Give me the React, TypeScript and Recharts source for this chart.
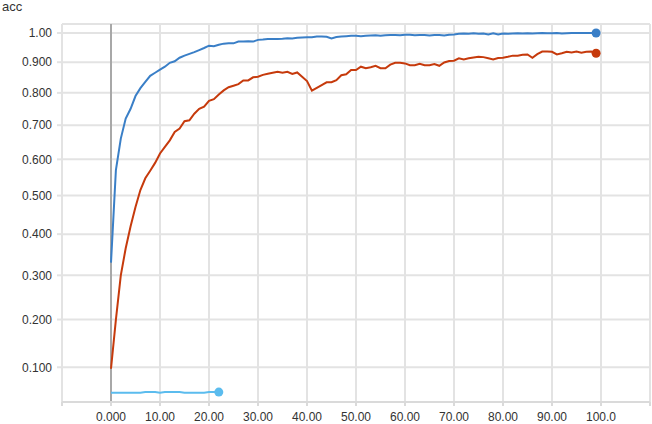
import React from 'react';
import { LineChart, Line, XAxis, YAxis, CartesianGrid, ReferenceLine } from 'recharts';

// accuracy per step
const trainAcc = [
  0.33, 0.57, 0.66, 0.72, 0.75, 0.79, 0.815, 0.835, 0.855, 0.865,
  0.875, 0.885, 0.898, 0.903, 0.915, 0.922, 0.928, 0.934, 0.941, 0.948,
  0.956, 0.954, 0.959, 0.963, 0.964, 0.964, 0.97, 0.97, 0.971, 0.97,
  0.976, 0.977, 0.979, 0.979, 0.979, 0.98, 0.982, 0.981, 0.983, 0.984,
  0.985, 0.985, 0.988, 0.988, 0.987, 0.981, 0.986, 0.988, 0.989, 0.99,
  0.99, 0.989, 0.99, 0.991, 0.992, 0.99, 0.992, 0.993, 0.993, 0.992,
  0.994, 0.994, 0.992, 0.993, 0.993, 0.991, 0.993, 0.993, 0.991, 0.994,
  0.995, 0.997, 0.998, 0.997, 0.999, 0.997, 0.998, 0.995, 0.999, 0.995,
  0.998, 0.997, 0.998, 0.999, 0.998, 0.999, 0.998, 0.999, 1.0, 0.999,
  0.999, 1.0, 0.998, 0.999, 1.0, 1.0, 1.0, 1.0, 1.0, 1.0,
];

const valAcc = [
  0.097, 0.2, 0.3, 0.365, 0.42, 0.47, 0.515, 0.547, 0.568, 0.59,
  0.617, 0.636, 0.655, 0.68, 0.69, 0.712, 0.715, 0.735, 0.75, 0.757,
  0.775, 0.78, 0.795, 0.808, 0.818, 0.823, 0.828, 0.84, 0.84, 0.85,
  0.852, 0.858, 0.862, 0.865, 0.868, 0.865, 0.868, 0.861, 0.866, 0.852,
  0.838, 0.807, 0.816, 0.825, 0.834, 0.834, 0.841, 0.857, 0.86, 0.874,
  0.874, 0.885, 0.88, 0.883, 0.888, 0.88, 0.88, 0.892, 0.898, 0.898,
  0.896, 0.89, 0.89, 0.895, 0.89, 0.89, 0.894, 0.888, 0.899, 0.904,
  0.905, 0.913, 0.909, 0.913, 0.916, 0.918, 0.917, 0.913, 0.909, 0.914,
  0.915, 0.918, 0.922, 0.922, 0.925, 0.926, 0.915, 0.927, 0.936, 0.936,
  0.935, 0.926, 0.93, 0.935, 0.933, 0.936, 0.932, 0.935, 0.936, 0.93,
];

const otherAcc = [
  0.05, 0.05, 0.05, 0.05, 0.05, 0.05, 0.05, 0.051, 0.051, 0.051,
  0.05, 0.051, 0.051, 0.051, 0.051, 0.05, 0.05, 0.05, 0.05, 0.05,
  0.051, 0.051, 0.051,
];

const xTickValues = [-10, 0, 10, 20, 30, 40, 50, 60, 70, 80, 90, 100, 110];
const xTickLabels = ['', '0.000', '10.00', '20.00', '30.00', '40.00', '50.00', '60.00', '70.00', '80.00', '90.00', '100.0', ''];
const yTickValues = [0.1, 0.2, 0.3, 0.4, 0.5, 0.6, 0.7, 0.8, 0.9, 1.0];
const yTickLabels = ['0.100', '0.200', '0.300', '0.400', '0.500', '0.600', '0.700', '0.800', '0.900', '1.00'];

// tensorboard style modified log scale
const warp = (v: number) => Math.log10(1 + 0.9 * v);

const BLUE = '#3a7fc7';
const RED = '#c63a0c';
const CYAN = '#5bbcee';

const data = trainAcc.map((v, i) => ({
  step: i,
  train: warp(v),
  val: valAcc[i] === undefined ? undefined : warp(valAcc[i]),
  other: otherAcc[i] === undefined ? undefined : warp(otherAcc[i]),
}));

const yTicks = yTickValues.map(warp);

const endDot = (last: number, color: string) => (props: any) =>
  props.index === last && props.cy != null ? (
    <circle key={`end-${props.index}`} cx={props.cx} cy={props.cy} r={4.5} fill={color} />
  ) : (
    <g key={`end-${props.index}`} />
  );

const App = () => {
  return (
    <div
      style={{
        position: 'absolute',
        left: 0,
        top: 0,
        width: 652,
        height: 424,
        background: '#fff',
        fontFamily: '"Liberation Sans", Arial, sans-serif',
      }}
    >
      <div style={{ position: 'absolute', left: 2, top: -1, fontSize: 13, color: '#333' }}>acc</div>
      <LineChart width={652} height={424} data={data} margin={{ top: 24, right: 2, bottom: 0, left: 0 }}>
        <CartesianGrid stroke="#e3e3e3" strokeWidth={2} />
        <XAxis
          dataKey="step"
          type="number"
          domain={[-10, 110]}
          ticks={xTickValues}
          tickFormatter={(v) => xTickLabels[xTickValues.indexOf(v)] ?? ''}
          height={22}
          tickSize={4}
          tickMargin={6}
          stroke="#dadada"
          axisLine={{ stroke: '#dadada', strokeWidth: 2 }}
          tickLine={{ stroke: '#dadada', strokeWidth: 2 }}
          tick={{ fill: '#333', fontSize: 12 }}
          interval={0}
        />
        <YAxis
          type="number"
          domain={[0.01235, 0.28525]}
          allowDataOverflow
          ticks={yTicks}
          tickFormatter={(v) => {
            const i = yTicks.findIndex((t) => Math.abs(t - v) < 1e-9);
            return i >= 0 ? yTickLabels[i] : '';
          }}
          width={62}
          axisLine={false}
          tickSize={5}
          tickMargin={5}
          tickLine={{ stroke: '#e3e3e3', strokeWidth: 2 }}
          tick={{ fill: '#333', fontSize: 12 }}
          interval={0}
        />
        <ReferenceLine x={0} stroke="#a8a8a8" strokeWidth={2} />
        <Line dataKey="other" stroke={CYAN} strokeWidth={2} dot={endDot(otherAcc.length - 1, CYAN)} isAnimationActive={false} />
        <Line dataKey="val" stroke={RED} strokeWidth={2} dot={endDot(valAcc.length - 1, RED)} isAnimationActive={false} />
        <Line dataKey="train" stroke={BLUE} strokeWidth={2} dot={endDot(trainAcc.length - 1, BLUE)} isAnimationActive={false} />
      </LineChart>
    </div>
  );
};

export default App;
